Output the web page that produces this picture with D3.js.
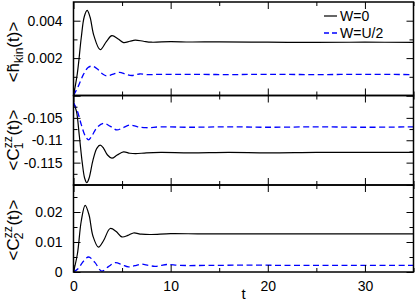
<!DOCTYPE html>
<html><head><meta charset="utf-8">
<script src="https://cdn.jsdelivr.net/npm/d3@7"></script>
<style>body{margin:0;background:#fff}svg{display:block}text{font-family:"Liberation Sans",Arial,sans-serif}</style>
</head><body><svg id="c" width="415" height="302"></svg>
<script>
// ---- data ----
const xTicksMajor = [0, 10, 20, 30];
const xTicksMinor = [5, 15, 25, 35];

// panel 1: <h_kin(t)>
const tKinW0 = [0, 0.4, 0.8, 1.1, 1.4, 1.7, 2.1, 2.75, 3.4, 3.95, 4.6, 5.15, 5.8, 6.35, 7.2, 8, 10, 12, 15, 20, 25, 30, 35];
const kinW0  = [0, 0.0012, 0.0031, 0.0042, 0.00455, 0.0042, 0.0032, 0.00245, 0.0029, 0.0032, 0.00302, 0.00283, 0.0029, 0.00296, 0.0029, 0.00285, 0.00288, 0.00286, 0.00287, 0.00285, 0.00284, 0.00285, 0.00284];
const tKinWU = [0, 0.5, 1.0, 1.5, 1.96, 2.5, 3.0, 3.43, 4.0, 4.73, 5.4, 6.0, 6.8, 7.6, 9, 12, 16, 20, 25, 30, 35];
const kinWU  = [0, 0.0005, 0.0011, 0.0015, 0.00157, 0.0014, 0.00115, 0.00105, 0.00113, 0.00124, 0.00113, 0.00107, 0.00115, 0.00112, 0.00113, 0.00113, 0.00112, 0.00113, 0.00112, 0.00113, 0.00112];
const kinTicksMajor = [0, 0.002, 0.004];
const kinTicksMinor = [0.001, 0.003, 0.005];

// panel 2: <C1zz(t)>
const tC1W0 = [0, 0.3, 0.6, 0.9, 1.15, 1.37, 1.6, 2.0, 2.4, 2.75, 3.1, 3.5, 3.95, 4.5, 5.15, 5.8, 6.4, 7.5, 9, 12, 16, 20, 25, 30, 35];
const c1W0  = [-0.1016, -0.1035, -0.109, -0.115, -0.1185, -0.1195, -0.1185, -0.1145, -0.1118, -0.1111, -0.1118, -0.1133, -0.114, -0.1133, -0.1126, -0.1129, -0.113, -0.1128, -0.1127, -0.1128, -0.1127, -0.1128, -0.1127, -0.1127, -0.1127];
const tC1WU = [0, 0.4, 0.8, 1.2, 1.55, 1.9, 2.4, 3.1, 3.8, 4.46, 5.1, 5.83, 6.6, 7.5, 9, 12, 16, 20, 25, 30, 35];
const c1WU  = [-0.1016, -0.1035, -0.1065, -0.109, -0.1099, -0.109, -0.1072, -0.1062, -0.1069, -0.1077, -0.1072, -0.1066, -0.107, -0.1072, -0.107, -0.1071, -0.107, -0.1071, -0.107, -0.1071, -0.107];
const c1TicksMajor = [-0.12, -0.115, -0.11, -0.105, -0.1];
const c1TicksMinor = [-0.1175, -0.1125, -0.1075, -0.1025];

// panel 3: <C2zz(t)>
const tC2W0 = [0, 0.4, 0.8, 1.2, 1.6, 2.0, 2.57, 3.1, 3.78, 4.4, 4.98, 5.6, 6.17, 7, 8, 10, 13, 16, 20, 25, 30, 35];
const c2W0  = [0, 0.006, 0.017, 0.0222, 0.019, 0.012, 0.0083, 0.0105, 0.0145, 0.0135, 0.0117, 0.0122, 0.013, 0.0126, 0.0125, 0.0128, 0.0127, 0.0127, 0.0127, 0.0127, 0.0127, 0.0127];
const tC2WU = [0, 0.5, 1.0, 1.55, 2.2, 2.9, 3.6, 4.3, 5.0, 5.65, 6.3, 7.0, 7.7, 8.4, 9.0, 9.6, 11, 14, 18, 22, 26, 30, 35];
const c2WU  = [0, 0.0012, 0.0035, 0.005, 0.0032, 0.0003, 0.0018, 0.0031, 0.0024, 0.0017, 0.0021, 0.0026, 0.0022, 0.0019, 0.0022, 0.0025, 0.0022, 0.0022, 0.0023, 0.0022, 0.0022, 0.0022, 0.0022];
const c2TicksMajor = [0, 0.01, 0.02];
const c2TicksMinor = [0.005, 0.015, 0.025];

const legendLabels = ["W=0", "W=U/2"];

// ---- drawing ----
const svg = d3.select("#c");
const X0 = 73.5, X1 = 413.5;
const x = d3.scaleLinear().domain([0, 35]).range([X0, X1]);
const BLUE = "#0000ff";
const fmt = v => String(+v.toFixed(4));

const panels = [
  {top: 2, bottom: 95.5, domain: [0, 0.005], major: kinTicksMajor, minor: kinTicksMinor, labeled: [0.002, 0.004],
   series: [[tKinW0, kinW0], [tKinWU, kinWU]], labelY: 52},
  {top: 95.5, bottom: 185, domain: [-0.12, -0.1], major: c1TicksMajor, minor: c1TicksMinor, labeled: [-0.115, -0.11, -0.105],
   series: [[tC1W0, c1W0], [tC1WU, c1WU]], labelY: 140},
  {top: 185, bottom: 272, domain: [0, 0.029], major: c2TicksMajor, minor: c2TicksMinor, labeled: [0, 0.01, 0.02],
   series: [[tC2W0, c2W0], [tC2WU, c2WU]], labelY: 230}
];

panels.forEach((p, i) => {
  const y = d3.scaleLinear().domain(p.domain).range([p.bottom, p.top]);
  const g = svg.append("g");
  const clipId = "clip" + i;
  svg.append("clipPath").attr("id", clipId).append("rect")
    .attr("x", X0).attr("y", p.top).attr("width", X1 - X0).attr("height", p.bottom - p.top);

  // series
  const line = d3.line().x(d => x(d[0])).y(d => y(d[1])).curve(d3.curveCatmullRom.alpha(0.5));
  p.series.forEach((s, k) => {
    const pts = s[0].map((t, j) => [t, s[1][j]]);
    g.append("path").attr("d", line(pts)).attr("fill", "none")
      .attr("clip-path", `url(#${clipId})`)
      .attr("stroke", k === 0 ? "#000" : BLUE)
      .attr("stroke-width", k === 0 ? 1.2 : 1.3)
      .attr("stroke-dasharray", k === 0 ? null : "6,3.5");
  });

  // axes (inward ticks)
  const mk = (axisFn, scale, vals, size, labels) => axisFn(scale).tickValues(vals).tickSize(-size).tickPadding(size + 4)
    .tickFormat(labels ? (v => labels.some(l => Math.abs(l - v) < 1e-9) ? fmt(v) : "") : () => "");
  const add = (axis, tx, ty) => {
    const a = g.append("g").attr("transform", `translate(${tx},${ty})`).call(axis);
    a.select(".domain").remove();
    a.selectAll("line").attr("stroke", "#000").attr("stroke-width", 1);
    a.selectAll("text").attr("font-size", 14).attr("fill", "#000");
    return a;
  };
  add(mk(d3.axisLeft, y, p.major, 7, p.labeled), X0, 0);
  add(mk(d3.axisLeft, y, p.minor.filter(v => v > p.domain[0] && v < p.domain[1]), 4, null), X0, 0);
  add(mk(d3.axisRight, y, p.major, 7, null), X1, 0);
  add(mk(d3.axisRight, y, p.minor.filter(v => v > p.domain[0] && v < p.domain[1]), 4, null), X1, 0);
  add(mk(d3.axisTop, x, xTicksMajor, 7, null), 0, p.top);
  add(mk(d3.axisTop, x, xTicksMinor, 4, null), 0, p.top);
  const bx = add(mk(d3.axisBottom, x, xTicksMajor, 7, i === 2 ? xTicksMajor : null), 0, p.bottom);
  bx.selectAll("text").attr("dy", "0.55em");
  add(mk(d3.axisBottom, x, xTicksMinor, 4, null), 0, p.bottom);

  // frame
  g.append("rect").attr("x", X0).attr("y", p.top).attr("width", X1 - X0).attr("height", p.bottom - p.top)
    .attr("fill", "none").attr("stroke", "#000").attr("stroke-width", 1.5);

  // y label
  const lt = svg.append("text").attr("transform", `translate(19,${p.labelY}) rotate(-90)`)
    .attr("text-anchor", "middle").attr("font-size", 17).attr("fill", "#000");
  if (i === 0) {
    lt.append("tspan").text("<h\u0303");
    lt.append("tspan").attr("font-size", 12).attr("dy", 4).text("kin");
    lt.append("tspan").attr("dy", -4).text("(t)>");
  } else {
    lt.append("tspan").text("<C");
    lt.append("tspan").attr("font-size", 12).attr("dy", -7).text("zz");
    lt.append("tspan").attr("font-size", 12).attr("dx", -13).attr("dy", 11).text(i === 1 ? "1" : "2");
    lt.append("tspan").attr("dx", 7).attr("dy", -4).text("(t)>");
  }
});

// x label
svg.append("text").attr("x", x(17.5)).attr("y", 299).attr("text-anchor", "middle")
  .attr("font-size", 15).text("t");

// legend
const lg = svg.append("g");
legendLabels.forEach((lab, k) => {
  const yy = 16 + k * 17;
  lg.append("line").attr("x1", 324).attr("x2", 337).attr("y1", yy).attr("y2", yy)
    .attr("stroke", k === 0 ? "#000" : BLUE).attr("stroke-width", k === 0 ? 1.2 : 1.3)
    .attr("stroke-dasharray", k === 0 ? null : "5,3");
  lg.append("text").attr("x", 340).attr("y", yy + 5).attr("font-size", 14).text(lab);
});
</script></body></html>
